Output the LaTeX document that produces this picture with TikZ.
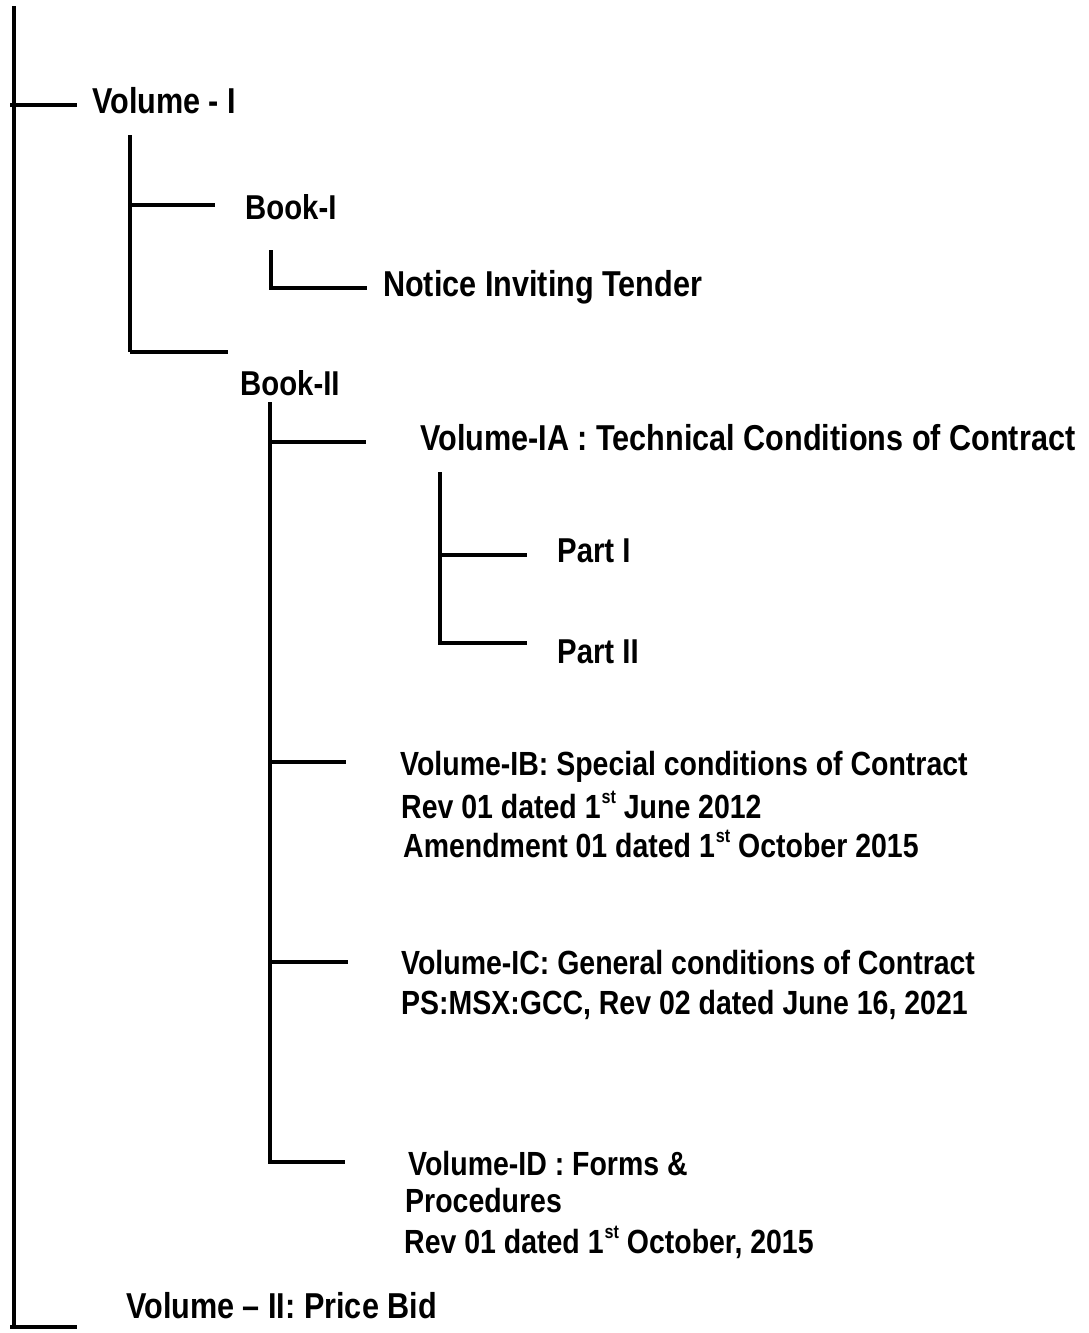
\documentclass[tikz,border=0pt]{standalone}
\usepackage{fontspec}
\setmainfont[FakeStretch=0.85]{Liberation Sans}
\newcommand\ordst{\kern1pt\raisebox{0.42em}{\fontsize{19}{19}\selectfont st}}
\begin{document}
\begin{tikzpicture}[x=1pt,y=-1pt,
  br/.style={line width=3.5pt},
  big/.style={anchor=base west,inner sep=0pt,font=\fontsize{36}{40}\selectfont\bfseries},
  mid/.style={anchor=base west,inner sep=0pt,font=\fontsize{34.5}{40}\selectfont\bfseries},
  small/.style={anchor=base west,inner sep=0pt,font=\fontsize{33.5}{40}\selectfont\bfseries}]
\useasboundingbox (0,0) rectangle (1089,1333);
% texts
\node[big]   (volI)   at (92,113)   {Volume - I};
\node[mid]   (bookI)  at (245,219)  {Book-I};
\node[big]   (notice) at (383,296)  {Notice Inviting Tender};
\node[mid]   (bookII) at (240,395)  {Book-II};
\node[big]   (ia)     at (420,450)  {Volume-IA : Technical Conditions of Contract};
\node[mid]   (p1)     at (557,562)  {Part I};
\node[mid]   (p2)     at (557,663)  {Part II};
\node[small] (ib1)    at (400,775)  {Volume-IB: Special conditions of Contract};
\node[small] (ib2)    at (401,818)  {Rev 01 dated 1\ordst{} June 2012};
\node[small] (ib3)    at (403,857)  {Amendment 01 dated 1\ordst{} October 2015};
\node[small] (ic1)    at (401,974)  {Volume-IC: General conditions of Contract};
\node[small] (ic2)    at (401,1014) {PS:MSX:GCC, Rev 02 dated June 16, 2021};
\node[small] (id1)    at (408,1175) {Volume-ID : Forms \&};
\node[small] (id2)    at (405,1212) {Procedures};
\node[small] (id3)    at (404,1253) {Rev 01 dated 1\ordst{} October, 2015};
\node[big]   (volII)  at (126,1318) {Volume -- II: Price Bid};
% junction coordinates
\coordinate (rt) at (14,6);
\coordinate (rb) at (14,1327);
\coordinate (j1) at (14,105);
\coordinate (e1) at (77,105);
\coordinate (e2) at (77,1327);
\coordinate (v1t) at (130,135);
\coordinate (v1a) at (130,205);
\coordinate (v1b) at (130,352);
\coordinate (eb1) at (215,205);
\coordinate (eb2) at (228,352);
\coordinate (bt) at (271,250);
\coordinate (bb) at (271,288);
\coordinate (en) at (367,288);
\coordinate (b2t) at (270,402);
\coordinate (b2a) at (270,442);
\coordinate (b2b) at (270,762);
\coordinate (b2c) at (270,962);
\coordinate (b2d) at (270,1162);
\coordinate (eia) at (366,442);
\coordinate (eib) at (346,762);
\coordinate (eic) at (348,962);
\coordinate (eid) at (345,1162);
\coordinate (iat) at (440,472);
\coordinate (iaa) at (440,555);
\coordinate (iab) at (440,643);
\coordinate (ep1) at (527,555);
\coordinate (ep2) at (527,643);
% connectors
\draw[br] (rt) -- (rb);
\draw[br] ([xshift=-4pt]j1) -- (e1);
\draw[br] ([xshift=-4pt]rb) -- (e2);
\draw[br] (v1t) -- (v1b);
\draw[br] (v1a) -- (eb1);
\draw[br] (v1b) -- (eb2);
\draw[br] (bt) -- (bb) -- (en);
\draw[br] (b2t) -- (b2d) -- (eid);
\draw[br] (b2a) -- (eia);
\draw[br] (b2b) -- (eib);
\draw[br] (b2c) -- (eic);
\draw[br] (iat) -- (iab) -- (ep2);
\draw[br] (iaa) -- (ep1);
\end{tikzpicture}
\end{document}
